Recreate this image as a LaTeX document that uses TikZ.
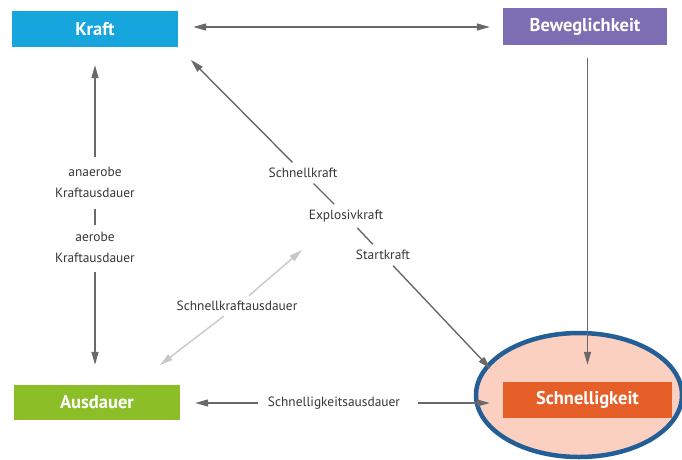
\documentclass[tikz,border=0pt]{standalone}
\usepackage{fontspec}
\setmainfont{PT Sans}
\usetikzlibrary{arrows.meta}
\definecolor{kraftblau}{RGB}{22,165,220}
\definecolor{bewlila}{RGB}{125,110,180}
\definecolor{ausgruen}{RGB}{140,190,40}
\definecolor{schnellorange}{RGB}{230,95,40}
\definecolor{ringblau}{RGB}{35,95,150}
\definecolor{ringfuell}{RGB}{251,208,192}
\definecolor{pfeilgrau}{RGB}{105,105,105}
\definecolor{hellgrau}{RGB}{200,200,200}
\definecolor{textgrau}{RGB}{55,55,55}
\tikzset{
  feld/.style={minimum width=166pt, minimum height=36pt, inner sep=0pt,
    text=white, font=\bfseries\fontsize{18.5}{20}\selectfont},
  spitze/.tip={Triangle[length=13pt,width=7pt]},
  linie/.style={draw=pfeilgrau, line width=1.4pt},
  marke/.style={align=center, inner sep=2pt, text=textgrau,
    font=\fontsize{13.4}{21}\selectfont},
}
\begin{document}
\begin{tikzpicture}[x=1pt,y=-1pt]
\useasboundingbox (0,0) rectangle (682,459);
\fill[white] (0,0) rectangle (682,459);
\draw[ringblau, line width=4.5pt, fill=ringfuell] (579,395) ellipse [x radius=103pt, y radius=62pt];

\node[feld, fill=kraftblau] (kraft) at (95,29) {Kraft};
\node[feld, fill=bewlila, minimum width=164pt, minimum height=37pt] (bew) at (585,26.5) {Beweglichkeit};
\node[feld, fill=ausgruen, minimum height=35pt] (ausdauer) at (97,402.5) {Ausdauer};
\node[feld, fill=schnellorange, minimum width=169pt] (schnell) at (587.5,400) {Schnelligkeit};

\node[marke] (anaerob) at (95,182) {anaerobe\\Kraftausdauer};
\node[marke] (aerob) at (95,247) {aerobe\\Kraftausdauer};
\node[marke] (schnellkraft) at (303,173) {Schnellkraft};
\node[marke] (explosiv) at (346,216) {Explosivkraft};
\node[marke] (startkraft) at (383,255) {Startkraft};
\node[marke] (ska) at (237,306) {Schnellkraftausdauer};
\node[marke] (sa) at (334,403) {Schnelligkeitsausdauer};
\coordinate (skoben) at (302,250);
\coordinate (skunten) at (160,365);

\draw[linie, spitze-spitze, shorten <=15pt, shorten >=13pt] (kraft.east |- 0,27) -- (bew.west |- 0,27);
\draw[linie, -spitze, shorten <=13pt, shorten >=17pt] (schnell.north |- bew.south) -- (schnell.north);

\draw[linie, spitze-, shorten <=18pt, shorten >=8pt] (kraft.south) -- (kraft.south |- anaerob.north);
\draw[linie, shorten <=10pt, shorten >=5pt] (anaerob) -- (aerob);
\draw[linie, -spitze, shorten <=8pt, shorten >=20pt] (aerob.south) -- (kraft.south |- ausdauer.north);

\draw[linie, spitze-, shorten <=18pt, shorten >=5pt] (kraft.south east) -- (schnellkraft);
\draw[linie, shorten <=5pt, shorten >=5pt] (schnellkraft) -- (explosiv);
\draw[linie, shorten <=5pt, shorten >=5pt] (explosiv) -- (startkraft);
\draw[linie, -spitze, shorten <=5pt, shorten >=18pt] (startkraft) -- (schnell.north west);

\draw[linie, draw=hellgrau, -spitze, shorten <=5pt] (ska) -- (skoben);
\draw[linie, draw=hellgrau, -spitze, shorten <=5pt] (ska) -- (skunten);

\draw[linie, -spitze, shorten <=8pt, shorten >=15pt] (sa) -- (sa -| ausdauer.east);
\draw[linie, -spitze, shorten <=16pt, shorten >=13pt] (sa) -- (sa -| schnell.west);
\end{tikzpicture}
\end{document}
